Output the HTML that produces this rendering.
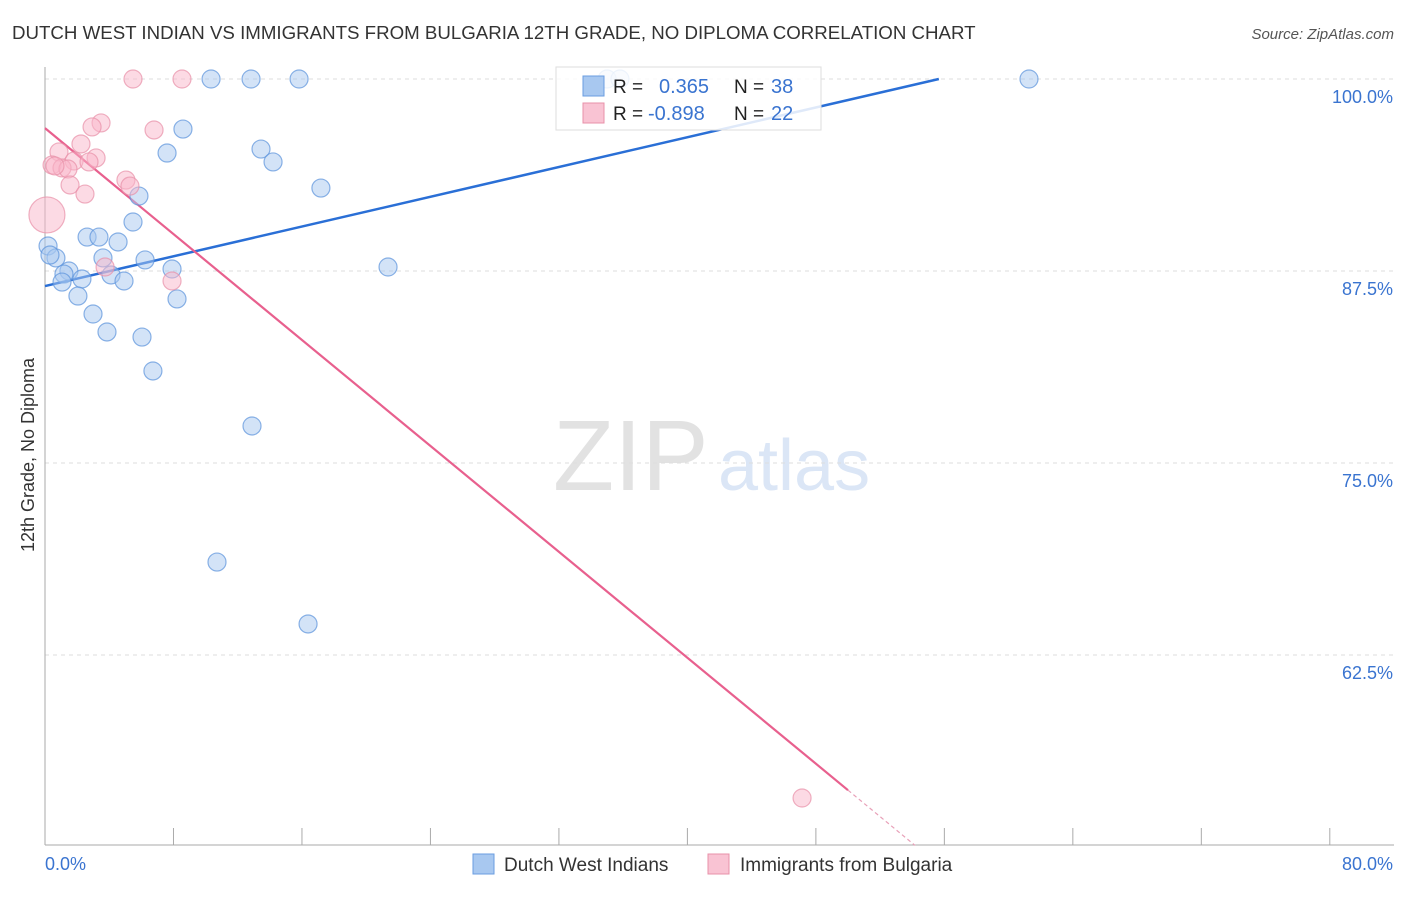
<!DOCTYPE html>
<html><head><meta charset="utf-8"><style>
body{margin:0;background:#fff;font-family:"Liberation Sans",sans-serif}
svg text{font-family:"Liberation Sans",sans-serif}
</style></head><body>
<svg id="chart" width="1406" height="892">
<text x="12" y="39" font-size="18.7" fill="#333">DUTCH WEST INDIAN VS IMMIGRANTS FROM BULGARIA 12TH GRADE, NO DIPLOMA CORRELATION CHART</text>
<text x="1394" y="39" font-size="15" fill="#555" text-anchor="end" font-style="italic">Source: ZipAtlas.com</text>
<text x="34" y="455" font-size="18" fill="#333" text-anchor="middle" transform="rotate(-90 34 455)">12th Grade, No Diploma</text>
<g>
<text x="553" y="490" font-size="100" fill="#e2e2e2" font-family="Liberation Serif,serif">ZIP</text>
<text x="718" y="490" font-size="72" fill="#dbe6f6">atlas</text>
</g>
<g id="grid"></g><g id="axes"></g><g id="trends"></g><g id="points"></g>
<g>
<rect x="556" y="67" width="265" height="63" fill="#fff" fill-opacity="0.85" stroke="#ddd"/>
<rect x="583" y="76" width="21" height="20" fill="#a8c8f0" stroke="#6a9de0"/>
<rect x="583" y="103" width="21" height="20" fill="#f9c3d3" stroke="#e890a8"/>
<text x="613" y="93" font-size="19" fill="#222">R =</text><text x="659" y="93" font-size="20" fill="#3a74d0">0.365</text>
<text x="734" y="93" font-size="19" fill="#222">N =</text><text x="771" y="93" font-size="20" fill="#3a74d0">38</text>
<text x="613" y="120" font-size="19" fill="#222">R =</text><text x="648" y="120" font-size="20" fill="#3a74d0">-0.898</text>
<text x="734" y="120" font-size="19" fill="#222">N =</text><text x="771" y="120" font-size="20" fill="#3a74d0">22</text>
</g>
<g>
<rect x="473" y="854" width="21" height="20" fill="#a8c8f0" stroke="#6a9de0"/>
<text x="504" y="871" font-size="19" fill="#333">Dutch West Indians</text>
<rect x="708" y="854" width="21" height="20" fill="#f9c3d3" stroke="#e890a8"/>
<text x="740" y="871" font-size="19" fill="#333">Immigrants from Bulgaria</text>
</g>
</svg>
<script>
const blueX=[10.34,12.83,15.82,61.27,35.0,35.8,8.59,7.6,13.45,14.2,17.18,5.85,5.48,2.62,3.36,4.55,0.19,0.68,3.61,6.23,7.91,1.49,1.18,2.3,4.11,4.92,1.06,2.05,8.22,2.99,3.86,6.04,6.72,21.36,12.89,10.71,16.38,0.31];
const blueY=[100,100,100,100,100,100,96.74,95.18,95.44,94.6,92.9,92.38,90.69,89.71,89.71,89.39,89.13,88.35,88.35,88.22,87.63,87.5,87.3,86.98,87.24,86.85,86.78,85.87,85.68,84.7,83.53,83.2,80.99,87.76,77.41,68.55,64.52,88.54];
const pinkX=[5.48,8.53,3.49,2.93,6.79,2.24,0.87,3.18,1.81,2.74,0.44,1.06,1.43,0.62,5.04,5.29,1.56,2.49,0.12,3.74,7.91,47.14];
const pinkY=[100,100,97.14,96.88,96.68,95.77,95.25,94.86,94.66,94.6,94.4,94.21,94.14,94.34,93.42,93.03,93.1,92.51,91.15,87.76,86.85,53.19];
const pinkR=[9,9,9,9,9,9,9,9,9,9,9,9,9,9,9,9,9,9,18,9,9,9];
const blueTrend=[86.52,0.2422];
const pinkTrend=[96.8,-0.862];
const yTicks=[100,87.5,75,62.5];
const yTickLabels=["100.0%","87.5%","75.0%","62.5%"];
const xTicks=[0,8,16,24,32,40,48,56,64,72,80];
const NS="http://www.w3.org/2000/svg";
const sx=v=>45+v*16.06, sy=v=>79+(100-v)*15.36;
function mk(tag,attrs,parent){const e=document.createElementNS(NS,tag);for(const k in attrs)e.setAttribute(k,attrs[k]);document.getElementById(parent).appendChild(e);return e;}
yTicks.forEach((t,i)=>{
 const g=mk('line',{x1:45,x2:1394,y1:sy(t),y2:sy(t),stroke:'#ddd','stroke-dasharray':'4 4'},'grid');
 
 
 const l=mk('text',{x:1393,y:sy(t)+24,'font-size':18,fill:'#3a74d0','text-anchor':'end'},'axes');
 l.textContent=yTickLabels[i];
 
 
});
const ax=mk('line',{x1:45,x2:45,y1:67,y2:845,stroke:'#aaa'},'axes');


const bx=mk('line',{x1:45,x2:1394,y1:845,y2:845,stroke:'#aaa'},'axes');


xTicks.forEach(t=>{const l=mk('line',{x1:sx(t),x2:sx(t),y1:828,y2:845,stroke:'#aaa'},'axes');
 
 });
const x0=mk('text',{x:45,y:870,'font-size':18,fill:'#3a74d0'},'axes');x0.textContent='0.0%';


const x1=mk('text',{x:1393,y:870,'font-size':18,fill:'#3a74d0','text-anchor':'end'},'axes');x1.textContent='80.0%';


blueX.forEach((v,i)=>{const c=mk('circle',{cx:sx(v),cy:sy(blueY[i]),r:9,fill:'#a8c8f0','fill-opacity':0.5,stroke:'#5b93dc','stroke-opacity':0.7,'stroke-width':1.2},'points');
 
 });
pinkX.forEach((v,i)=>{const c=mk('circle',{cx:sx(v),cy:sy(pinkY[i]),r:pinkR[i],fill:'#f9b6ca','fill-opacity':0.5,stroke:'#e890a8','stroke-opacity':0.7,'stroke-width':1.2},'points');
 
 });
const bxEnd=(100-blueTrend[0])/blueTrend[1];
const bl=mk('line',{x1:sx(0),y1:sy(blueTrend[0]),x2:sx(bxEnd),y2:sy(100),stroke:'#2a6fd6','stroke-width':2.5},'trends');


const pEnd=50,pDash=(50.1-pinkTrend[0])/pinkTrend[1];
const pl=mk('line',{x1:sx(0),y1:sy(pinkTrend[0]),x2:sx(pEnd),y2:sy(pinkTrend[0]+pinkTrend[1]*pEnd),stroke:'#e8608e','stroke-width':2.2},'trends');


const pd=mk('line',{x1:sx(pEnd),y1:sy(pinkTrend[0]+pinkTrend[1]*pEnd),x2:sx(pDash),y2:sy(50.1),stroke:'#e8a0b8','stroke-width':1.2,'stroke-dasharray':'4 3'},'trends');


</script>
</body></html>
